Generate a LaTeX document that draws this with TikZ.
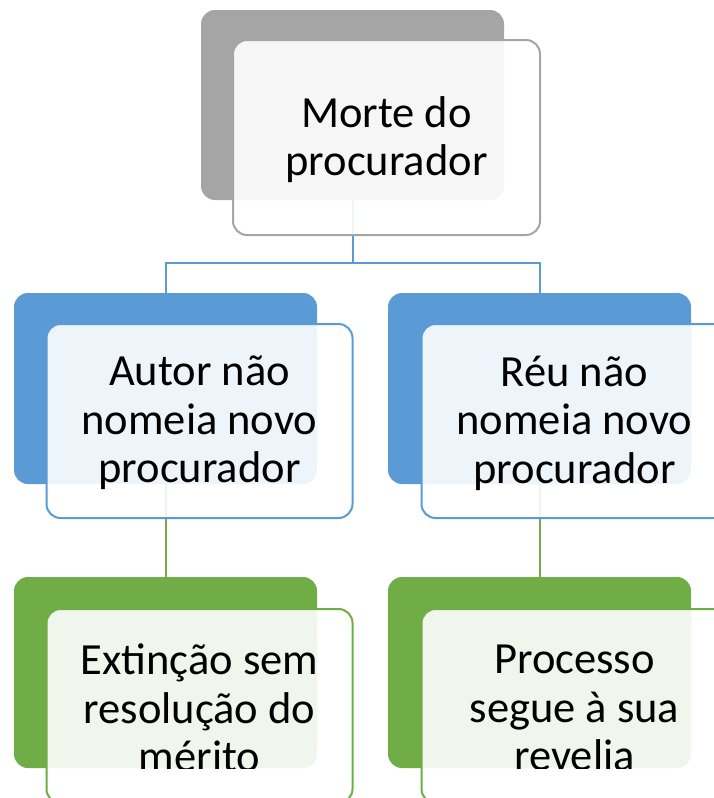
\documentclass[tikz,border=0pt]{standalone}
\usepackage{fontspec}
\setmainfont{Carlito}
\definecolor{cgray}{HTML}{A5A5A5}
\definecolor{cblue}{HTML}{5B9BD5}
\definecolor{cgreen}{HTML}{70AD47}
\tikzset{
  backbox/.style={rectangle, rounded corners=14pt, inner sep=0pt, minimum width=303pt, minimum height=191pt, fill=#1},
  frontbox/.style={rectangle, rounded corners=14pt, inner sep=0pt, minimum width=306pt, minimum height=194pt, draw=#1, line width=2pt, fill=white, fill opacity=0.9, draw opacity=1},
  label/.style={align=center, inner sep=0pt, font=\fontsize{44.5}{48.5}\selectfont, text=black},
  conn/.style={draw=#1, line width=2pt}
}
\begin{document}
\begin{tikzpicture}[x=1pt,y=-1pt]
\useasboundingbox (0,0) rectangle (714,798);
% back boxes
\node[backbox=cgray, minimum height=190pt] (b0) at (352.5,105) {};
\node[backbox=cblue] (bl) at (165.5,388.5) {};
\node[backbox=cblue] (br) at (539.5,388.5) {};
\node[backbox=cgreen] (gl) at (165.5,672.5) {};
\node[backbox=cgreen] (gr) at (539.5,672.5) {};
% connectors
\coordinate (j0) at (352.5,263);
\draw[conn=cblue] (b0.south) -- (j0);
\draw[conn=cblue] (bl.north) |- (j0) -| (br.north);
\draw[conn=cgreen] (bl.south) -- (gl.north);
\draw[conn=cgreen] (br.south) -- (gr.north);
% front boxes
\node[frontbox=cgray, minimum width=307pt, minimum height=195pt] (f0) at (386.5,137.5) {};
\node[frontbox=cblue] (fl) at (199.5,421) {};
\node[frontbox=cblue] (fr) at (574.5,421) {};
\node[frontbox=cgreen] (hl) at (199.5,706) {};
\node[frontbox=cgreen] (hr) at (574.5,706) {};
% texts
\node[label] (t0) at ([yshift=-2pt]f0.center) {Morte do\\procurador};
\node[label] (tl) at ([yshift=-2pt]fl.center) {Autor não\\nomeia novo\\procurador};
\node[label] (tr) at ([yshift=-2pt]fr.center) {Réu não\\nomeia novo\\procurador};
\begin{scope}
\clip (0,0) rectangle (714,768);
\node[label] (ul) at ([yshift=-2pt]hl.center) {Extinção sem\\resolução do\\mérito};
\node[label] (ur) at ([yshift=-2pt]hr.center) {Processo\\segue à sua\\revelia};
\end{scope}
\end{tikzpicture}
\end{document}
